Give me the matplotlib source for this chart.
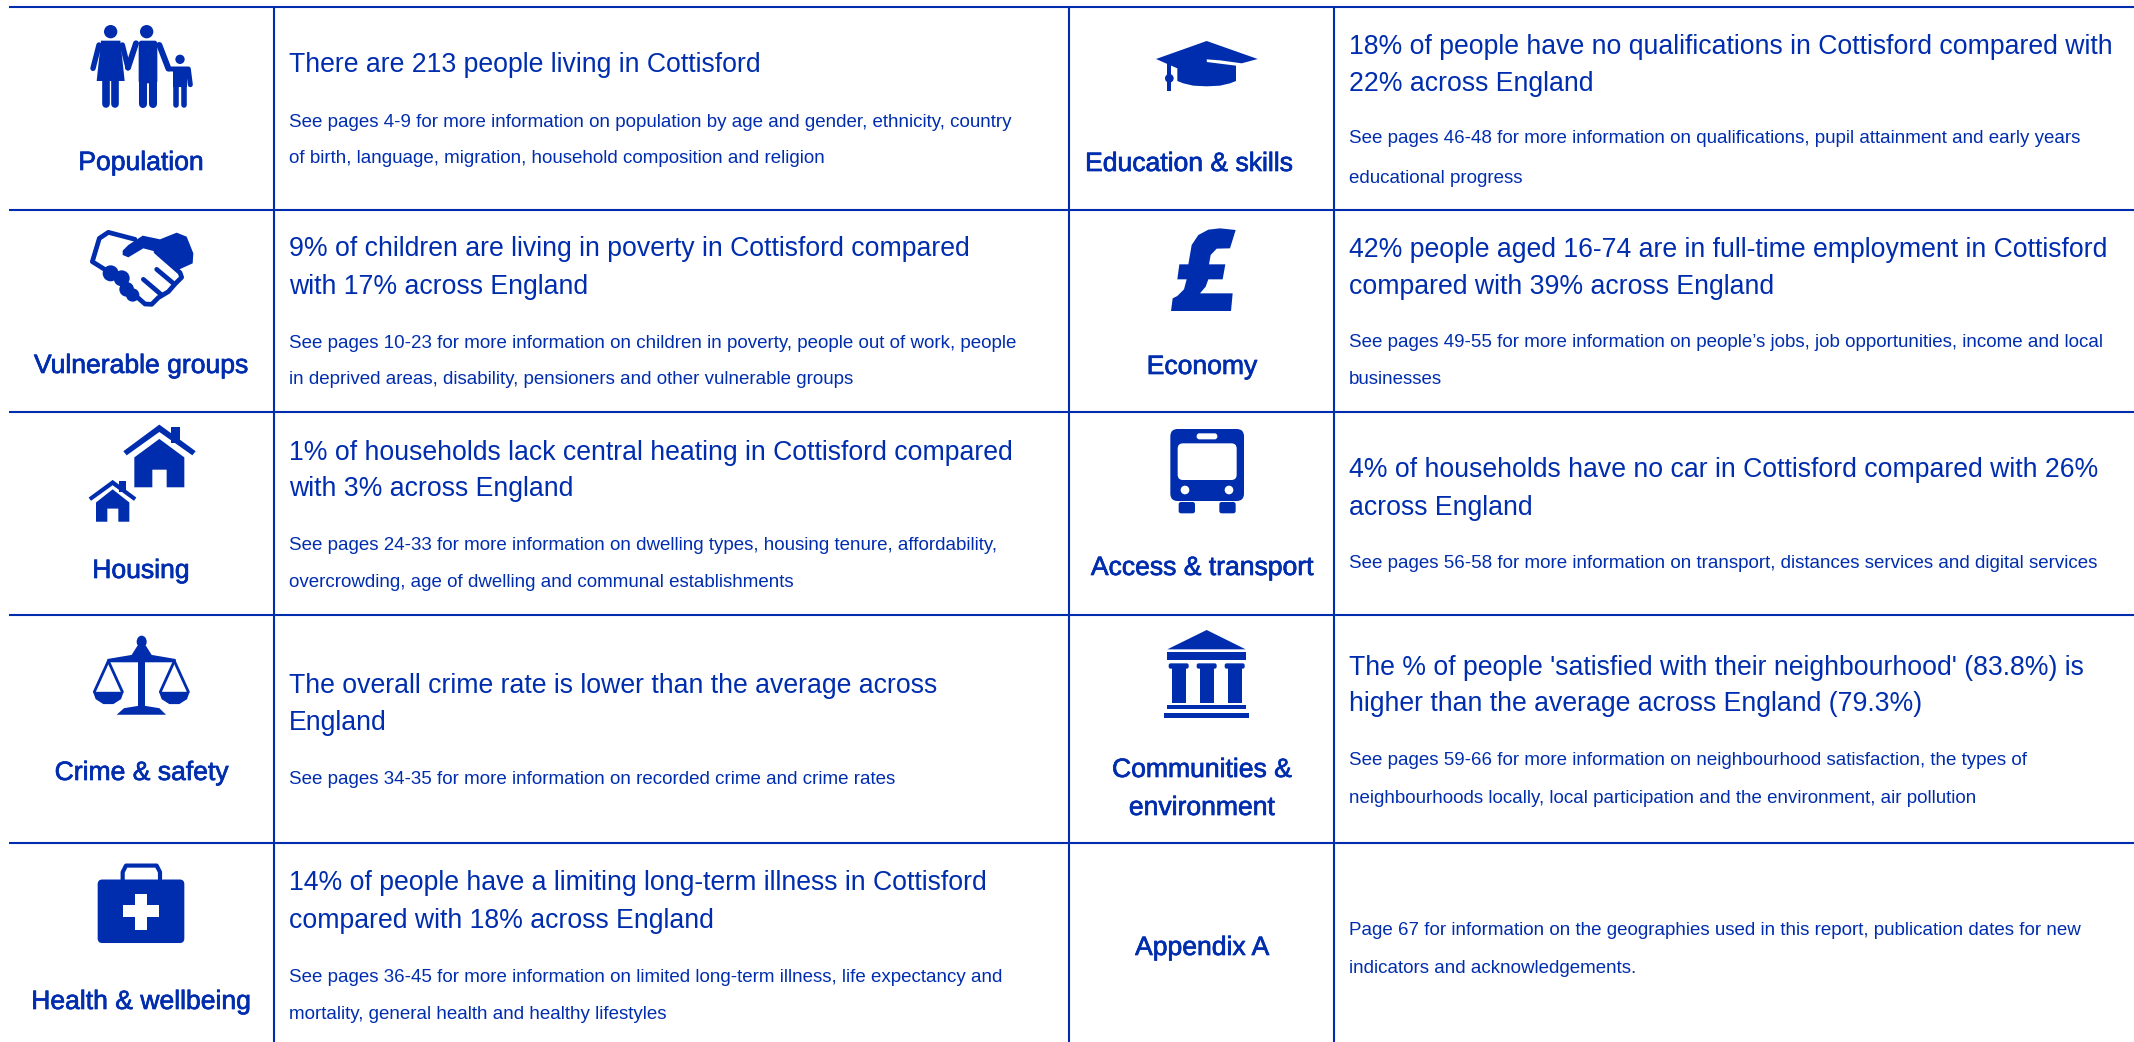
import matplotlib
matplotlib.use("Agg")
import matplotlib.pyplot as plt
from matplotlib.patches import Polygon, Ellipse, Rectangle, FancyBboxPatch
import matplotlib.patheffects as pe

BLUE = "#002DAE"
FONT = "Liberation Sans"
W, H = 2134, 1042

# ---- table content ----
h_lines = [6.5, 209.5, 411.5, 614.5, 842.5]
v_lines = [274, 1069, 1334]
left_edge = 9

labels_left = ["Population", "Vulnerable groups", "Housing", "Crime & safety", "Health & wellbeing"]
labels_left_pos = [(141, 170), (141, 373), (141, 578), (141.5, 780), (141, 1009)]
labels_right = ["Education & skills", "Economy", "Access & transport", "Communities &", "environment", "Appendix A"]
labels_right_pos = [(1189, 171), (1202, 374), (1202, 575), (1202, 777), (1202, 815), (1202, 955)]

titles_left = [
    ("There are 213 people living in Cottisford", 71.7),
    ("9% of children are living in poverty in Cottisford compared", 256),
    ("with 17% across England", 294),
    ("1% of households lack central heating in Cottisford compared", 459.5),
    ("with 3% across England", 496.5),
    ("The overall crime rate is lower than the average across", 693),
    ("England", 730),
    ("14% of people have a limiting long-term illness in Cottisford", 890.5),
    ("compared with 18% across England", 928),
]
notes_left = [
    ("See pages 4-9 for more information on population by age and gender, ethnicity, country", 126.7),
    ("of birth, language, migration, household composition and religion", 163),
    ("See pages 10-23 for more information on children in poverty, people out of work, people", 347.7),
    ("in deprived areas, disability, pensioners and other vulnerable groups", 384.3),
    ("See pages 24-33 for more information on dwelling types, housing tenure, affordability,", 549.6),
    ("overcrowding, age of dwelling and communal establishments", 587),
    ("See pages 34-35 for more information on recorded crime and crime rates", 784),
    ("See pages 36-45 for more information on limited long-term illness, life expectancy and", 982),
    ("mortality, general health and healthy lifestyles", 1019),
]
titles_right = [
    ("18% of people have no qualifications in Cottisford compared with", 54),
    ("22% across England", 91),
    ("42% people aged 16-74 are in full-time employment in Cottisford", 257),
    ("compared with 39% across England", 293.6),
    ("4% of households have no car in Cottisford compared with 26%", 477),
    ("across England", 515),
    ("The % of people 'satisfied with their neighbourhood' (83.8%) is", 674.6),
    ("higher than the average across England (79.3%)", 711),
]
notes_right = [
    ("See pages 46-48 for more information on qualifications, pupil attainment and early years", 143),
    ("educational progress", 182.6),
    ("See pages 49-55 for more information on people\u2019s jobs, job opportunities, income and local", 347),
    ("businesses", 384),
    ("See pages 56-58 for more information on transport, distances services and digital services", 568),
    ("See pages 59-66 for more information on neighbourhood satisfaction, the types of", 765),
    ("neighbourhoods locally, local participation and the environment, air pollution", 803),
    ("Page 67 for information on the geographies used in this report, publication dates for new", 935),
    ("indicators and acknowledgements.", 973),
]

fig = plt.figure(figsize=(W / 100, H / 100), dpi=100)
ax = fig.add_axes([0, 0, 1, 1])
ax.set_xlim(0, W)
ax.set_ylim(H, 0)
ax.axis("off")

for y in h_lines:
    ax.plot([left_edge, W], [y, y], color=BLUE, lw=1.5, solid_capstyle="butt")
for x in v_lines:
    ax.plot([x, x], [h_lines[0], H], color=BLUE, lw=1.5, solid_capstyle="butt")

for (s, (x, y)) in list(zip(labels_left, labels_left_pos)) + list(zip(labels_right, labels_right_pos)):
    t = ax.text(x, y, s, ha="center", va="baseline", family=FONT, fontsize=19.1, color=BLUE)
    t.set_path_effects([pe.withStroke(linewidth=0.5, foreground=BLUE)])
for rows, x in ((titles_left, 289), (titles_right, 1349)):
    for s, y in rows:
        ax.text(x, y, s, ha="left", va="baseline", family=FONT, fontsize=19.2, color=BLUE)
for rows, x in ((notes_left, 289), (notes_right, 1349)):
    for s, y in rows:
        ax.text(x, y, s, ha="left", va="baseline", family=FONT, fontsize=13.52, color=BLUE)


# ---- icon helpers: coordinates are measured in a local frame, mapped to pixels ----
class Frame:
    def __init__(self, ox, oy, sx=3.0, sy=3.0):
        self.ox, self.oy, self.sx, self.sy = ox, oy, sx, sy

    def p(self, x, y):
        return self.ox + x / self.sx, self.oy + y / self.sy

    def poly(self, pts, color=BLUE):
        ax.add_patch(Polygon([self.p(*q) for q in pts], closed=True, fc=color, ec="none", zorder=3))

    def rect(self, x0, y0, x1, y1, color=BLUE, r=0):
        a, b = self.p(x0, y0)
        c, d = self.p(x1, y1)
        if r:
            r = r / self.sx
            ax.add_patch(FancyBboxPatch((a + r, b + r), c - a - 2 * r, d - b - 2 * r,
                                        boxstyle=f"round,pad={r},rounding_size={r}",
                                        fc=color, ec="none", zorder=3))
        else:
            ax.add_patch(Rectangle((a, b), c - a, d - b, fc=color, ec="none", zorder=3))

    def dot(self, x, y, rx, ry=None, color=BLUE):
        ry = rx if ry is None else ry
        ax.add_patch(Ellipse(self.p(x, y), 2 * rx / self.sx, 2 * ry / self.sy, fc=color, ec="none", zorder=3))

    def line(self, pts, lw, color=BLUE, cap="round"):
        q = [self.p(*a) for a in pts]
        ax.plot([a[0] for a in q], [a[1] for a in q], color=color, lw=lw, zorder=3,
                solid_capstyle=cap, solid_joinstyle="round")


# Population
f = Frame(0, 0)
f.dot(332, 95, 20)
f.dot(440, 95, 20)
f.dot(540, 178, 14)
f.poly([(303, 122), (361, 122), (374, 243), (290, 243)])
f.line([(297, 135), (279, 205)], 3.9)
f.line([(367, 135), (384, 203)], 3.9)
f.line([(319, 240), (319, 312)], 5.5)
f.line([(346, 240), (346, 312)], 5.5)
f.rect(416, 122, 472, 250, r=8)
f.line([(408, 130), (384, 203)], 4.3)
f.line([(478, 135), (505, 205)], 4.3)
f.line([(428, 240), (428, 312)], 5.8)
f.line([(459, 240), (459, 312)], 5.8)
f.rect(520, 200, 560, 262)
f.line([(505, 207), (565, 207), (571, 254)], 3.6)
f.line([(528, 260), (528, 316)], 4)
f.line([(552, 260), (552, 316)], 4)

# Vulnerable groups: handshake
f = Frame(0, 0)
f.line([(405, 718), (325, 697), (298, 715), (277, 785), (325, 815)], 3.4)
f.poly([(368, 752), (385, 735), (428, 707), (480, 718), (530, 698), (560, 710),
        (580, 760), (578, 790), (545, 805), (530, 812), (468, 755), (430, 745), (385, 772), (368, 765)])
f.line([(468, 755), (540, 818), (545, 832), (525, 852), (505, 875), (475, 893), (455, 913), (435, 912), (410, 890)], 3.4)
f.line([(470, 808), (520, 850)], 3.4)
f.line([(430, 838), (485, 885)], 3.4)
for cx, cy, r in [(332, 820, 24), (365, 835, 24), (380, 868, 22), (398, 885, 20)]:
    f.dot(cx, cy, r)

# Housing
f = Frame(0, 400, 3.0, 2.44)
f.rect(512, 65, 540, 105)
f.poly([(370, 125), (478, 60), (587, 125), (577, 135), (478, 78), (380, 135)])
f.poly([(403, 140), (478, 95), (553, 140), (553, 213), (500, 213), (500, 170), (457, 170), (457, 213), (403, 213)])
f.rect(358, 198, 378, 225)
f.poly([(266, 238), (338, 195), (409, 238), (402, 246), (338, 208), (273, 246)])
f.poly([(288, 250), (338, 218), (388, 250), (388, 297), (355, 297), (355, 265), (322, 265), (322, 297), (288, 297)])

# Crime & safety: scales
f.dot(425, 590, 15, 15)
f.poly([(322, 632), (395, 622), (412, 600), (438, 600), (455, 622), (527, 632), (527, 640), (322, 640)])
f.rect(415, 640, 435, 752)
f.poly([(350, 768), (372, 752), (425, 745), (478, 752), (498, 768)])
for cx in (325, 523):
    f.line([(cx, 637), (cx - 42, 712)], 2.0)
    f.line([(cx, 637), (cx + 42, 712)], 2.0)
    f.poly([(cx - 46, 712), (cx + 46, 712), (cx + 38, 730), (cx + 15, 742), (cx - 15, 742), (cx - 38, 730)])

# Health & wellbeing: medical case
f.line([(368, 1170), (368, 1152), (378, 1136), (470, 1136), (480, 1152), (480, 1170)], 3.0)
f.rect(293, 1170, 553, 1325, r=14)
f.rect(370, 1232, 477, 1262, color="white")
f.rect(405, 1205, 442, 1292, color="white")

# Education & skills: mortarboard
f = Frame(1060, 0)
f.poly([(288, 177), (440, 123), (593, 177), (545, 190), (480, 181), (440, 178), (440, 190), (352, 205)])
f.poly([(352, 200), (438, 176), (440, 186), (528, 197), (528, 243), (510, 250), (480, 257), (440, 259),
        (400, 257), (370, 250), (352, 243)])
f.rect(320, 188, 333, 272)
f.dot(328, 235, 13)

# Economy: pound sign
f.poly([(333, 933), (513, 933), (518, 880), (420, 880), (437, 860), (445, 838), (488, 838), (496, 793),
        (447, 793), (452, 765), (470, 746), (510, 745), (527, 690), (480, 685), (445, 689), (415, 705),
        (395, 735), (385, 793), (358, 793), (352, 838), (380, 838), (372, 868), (352, 888), (338, 895)])

# Access & transport: bus
f = Frame(1060, 400)
f.rect(331, 87, 552, 303, r=22)
f.rect(353, 130, 530, 240, color="white", r=16)
f.rect(410, 100, 472, 118, color="white", r=8)
f.dot(375, 270, 13, color="white")
f.dot(507, 270, 13, color="white")
f.rect(356, 306, 405, 340, r=7)
f.rect(478, 306, 527, 340, r=7)

# Communities & environment: columns
f.poly([(322, 748), (440, 690), (557, 748)])
f.rect(322, 756, 558, 780)
for a in (326, 410, 494):
    f.rect(a, 790, a + 60, 806, r=6)
    f.rect(a + 9, 800, a + 52, 908)
f.rect(322, 914, 558, 928)
f.rect(312, 940, 568, 955)

fig.savefig("out.png", dpi=100)
